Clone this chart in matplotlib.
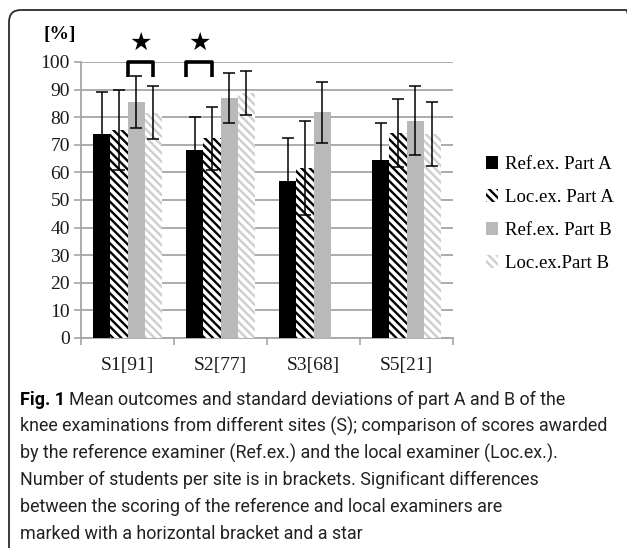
import matplotlib
matplotlib.use("Agg")
import matplotlib.pyplot as plt
import numpy as np
from matplotlib.patches import FancyBboxPatch, Patch
from matplotlib import font_manager

# ── Data ─────────────────────────────────────────────────────────────────────
sites = ["S1[91]", "S2[77]", "S3[68]", "S5[21]"]
series = ["Ref.ex. Part A", "Loc.ex. Part A", "Ref.ex. Part B", "Loc.ex.Part B"]

ref_a_mean = [74, 68, 57, 64.5]
ref_a_sd   = [15, 12, 15.5, 13.5]
loc_a_mean = [75.5, 72.3, 61.5, 74.4]
loc_a_sd   = [14.5, 11.5, 17, 12.3]
ref_b_mean = [85.5, 87, 81.8, 78.8]
ref_b_sd   = [9.4, 9, 11, 12.6]
loc_b_mean = [81.7, 88.7, np.nan, 73.9]
loc_b_sd   = [9.6, 8, np.nan, 11.6]

# significant pairs: (site index, first series, second series)
sig_site  = [0, 1]
sig_first = [2, 0]
sig_second = [3, 1]

yticks = list(range(0, 101, 10))

# ── Style ────────────────────────────────────────────────────────────────────
W, H, DPI = 6.27, 5.48, 100
SERIF = "Liberation Serif"
GRID = "#a6a6a6"
REF_B = "#b9b9b9"
LOC_B_HATCH = "#cecece"

def pick_font(names):
    for n in names:
        try:
            font_manager.findfont(font_manager.FontProperties(family=n),
                                  fallback_to_default=False)
            return n
        except Exception:
            pass
    return "DejaVu Sans"

CAP_FONT = pick_font(["Liberation Sans Narrow", "Roboto", "Open Sans"])

plt.rcParams["hatch.linewidth"] = 1.7

fig = plt.figure(figsize=(W, H), dpi=DPI, facecolor="white")

# outer rounded frame (right and bottom run off the picture)
frame = FancyBboxPatch((0.09, -0.6), 6.29, 5.98,
                       boxstyle="round,pad=0,rounding_size=0.12",
                       facecolor="none", edgecolor="#2b2b2b", linewidth=1.3,
                       transform=fig.dpi_scale_trans, clip_on=False)
fig.patches.append(frame)

ax = fig.add_axes([81 / 627, 1 - 338 / 548, 372 / 627, 276 / 548])

x = np.arange(len(sites))
w = 0.183
means = [ref_a_mean, loc_a_mean, ref_b_mean, loc_b_mean]
sds = [ref_a_sd, loc_a_sd, ref_b_sd, loc_b_sd]
faces = ["black", "white", REF_B, "white"]
edges = ["black", "black", REF_B, LOC_B_HATCH]
hatches = [None, "\\\\\\\\", None, "\\\\\\\\"]

handles = []
for i in range(4):
    off = (i - 1.5) * w
    ax.bar(x + off, means[i], w, color=faces[i], edgecolor=edges[i],
           hatch=hatches[i], linewidth=0, zorder=3)
    ax.errorbar(x + off, means[i], yerr=sds[i], fmt="none", ecolor="black",
                elinewidth=1.1, capsize=4, capthick=1.1, zorder=4)
    handles.append(Patch(facecolor=faces[i], edgecolor=edges[i],
                         hatch=hatches[i], linewidth=0, label=series[i]))

# significance brackets and stars
for s, a, b in zip(sig_site, sig_first, sig_second):
    x0 = x[s] + (a - 1.5) * w - 0.5 * w
    x1 = x[s] + (b - 1.5) * w
    ax.plot([x0, x0, x1, x1], [94.6, 100, 100, 94.6], color="black",
            lw=2.6, solid_joinstyle="round", solid_capstyle="butt",
            clip_on=False, zorder=6)
    ax.text((x0 + x1) / 2, 107, "★", ha="center", va="center",
            fontsize=18, family="DejaVu Sans", color="black", clip_on=False)

ax.set_xlim(-0.5, 3.5)
ax.set_ylim(0, 100)
ax.set_yticks(yticks)
ax.set_yticklabels([str(t) for t in yticks], family=SERIF, fontsize=14,
                   color="#1a1a1a")
ax.set_xticks(x)
ax.set_xticklabels(sites, family=SERIF, fontsize=14, color="#1a1a1a")
ax.set_xticks(np.arange(-0.5, 3.6, 1), minor=True)
ax.tick_params(axis="x", which="major", length=0, pad=14)
ax.tick_params(axis="x", which="minor", length=5, width=1.2, color=GRID)
ax.tick_params(axis="y", length=5, width=1.2, color=GRID, pad=3)
ax.yaxis.grid(True, color=GRID, linewidth=1.3, zorder=0)
ax.set_axisbelow(True)
for sp in ["top", "right"]:
    ax.spines[sp].set_visible(False)
for sp in ["left", "bottom"]:
    ax.spines[sp].set_color(GRID)
    ax.spines[sp].set_linewidth(1.3)

fig.text(43 / 627, 1 - 35 / 548, "[%]", family=SERIF, fontweight="bold",
         fontsize=14, ha="left", va="center")

fig.legend(handles=handles, loc="center left",
           bbox_to_anchor=(486 / 627, 1 - 214 / 548), frameon=False,
           prop={"family": SERIF, "size": 13.5}, handlelength=0.65,
           handleheight=0.65, handletextpad=0.35, labelspacing=0.85,
           borderpad=0, borderaxespad=0)

# ── Caption ──────────────────────────────────────────────────────────────────
cap_lines = [
    "Mean outcomes and standard deviations of part A and B of the",
    "knee examinations from different sites (S); comparison of scores awarded",
    "by the reference examiner (Ref.ex.) and the local examiner (Loc.ex.).",
    "Number of students per site is in brackets. Significant differences",
    "between the scoring of the reference and local examiners are",
    "marked with a horizontal bracket and a star",
]

renderer = fig.canvas.get_renderer()
probe = fig.text(0, 0, cap_lines[1], family=CAP_FONT, fontsize=13)
pw = probe.get_window_extent(renderer).width
probe.remove()
cap_size = 13 * 587 / pw

x_left = 20 / 627
for k, line in enumerate(cap_lines):
    yb = 1 - (405 + k * 26.8) / 548
    if k == 0:
        t = fig.text(x_left, yb, "Fig. 1", family=CAP_FONT, fontweight="bold",
                     fontsize=cap_size, va="baseline", ha="left")
        bw = t.get_window_extent(renderer).width
        sp = fig.text(0, 0, "a a", family=CAP_FONT, fontsize=cap_size)
        nsp = fig.text(0, 0, "aa", family=CAP_FONT, fontsize=cap_size)
        space = sp.get_window_extent(renderer).width - nsp.get_window_extent(renderer).width
        sp.remove(); nsp.remove()
        fig.text(x_left + (bw + space) / (W * DPI), yb, line, family=CAP_FONT,
                 fontsize=cap_size, va="baseline", ha="left", color="#222222")
    else:
        fig.text(x_left, yb, line, family=CAP_FONT, fontsize=cap_size,
                 va="baseline", ha="left", color="#222222")

fig.savefig("out.png", dpi=DPI)
